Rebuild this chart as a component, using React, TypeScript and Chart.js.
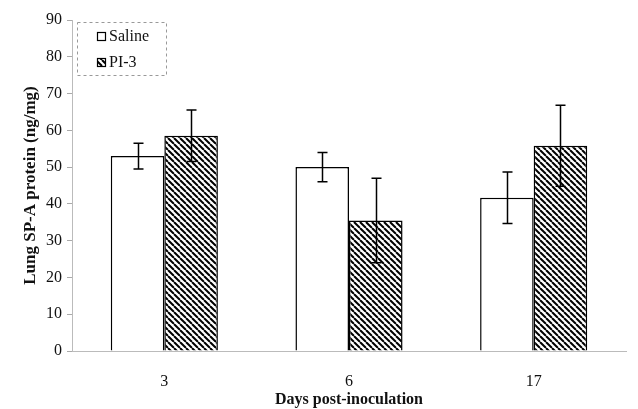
import React, { useEffect, useRef } from "react";
import { Chart, registerables } from "chart.js";
Chart.register(...registerables);

const categories = ["3", "6", "17"];
const salineValues = [53, 50, 41.7];
const salineErrors = [3.5, 4, 7];
const pi3Values = [58.5, 35.5, 55.8];
const pi3Errors = [7, 11.5, 11];
const yTicks = [0, 10, 20, 30, 40, 50, 60, 70, 80, 90];

const FONT = '"Liberation Serif", "DejaVu Serif", serif';

function makeHatch(): CanvasPattern | string {
  const c = document.createElement("canvas");
  c.width = 6;
  c.height = 6;
  const ctx = c.getContext("2d")!;
  ctx.fillStyle = "#fff";
  ctx.fillRect(0, 0, 6, 6);
  ctx.strokeStyle = "#000";
  ctx.lineWidth = 2;
  for (const x of [-6, 0, 6]) {
    ctx.beginPath();
    ctx.moveTo(x, 0);
    ctx.lineTo(x + 6, 6);
    ctx.stroke();
  }
  return ctx.createPattern(c, "repeat") || "#888";
}

const errorBarPlugin = {
  id: "errorBars",
  afterDatasetsDraw(chart: any) {
    const ctx = chart.ctx;
    const y = chart.scales.y;
    ctx.save();
    ctx.strokeStyle = "#000";
    ctx.lineWidth = 1.5;
    chart.data.datasets.forEach((ds: any, di: number) => {
      const meta = chart.getDatasetMeta(di);
      const errs = ds.errors as number[];
      meta.data.forEach((bar: any, i: number) => {
        const v = ds.data[i];
        const top = y.getPixelForValue(v + errs[i]);
        const bot = y.getPixelForValue(v - errs[i]);
        const x = Math.round(bar.x) + 0.5;
        ctx.beginPath();
        ctx.moveTo(x, top);
        ctx.lineTo(x, bot);
        ctx.moveTo(x - 5, top);
        ctx.lineTo(x + 5, top);
        ctx.moveTo(x - 5, bot);
        ctx.lineTo(x + 5, bot);
        ctx.stroke();
      });
    });
    ctx.restore();
  },
};

const legendPlugin = {
  id: "boxLegend",
  afterDraw(chart: any) {
    const ctx = chart.ctx;
    const a = chart.chartArea;
    const x0 = a.left + 5;
    const y0 = a.top + 2;
    const w = 89;
    const h = 53;
    ctx.save();
    ctx.strokeStyle = "#999";
    ctx.lineWidth = 1;
    ctx.setLineDash([3, 3]);
    ctx.strokeRect(x0 + 0.5, y0 + 0.5, w, h);
    ctx.setLineDash([]);
    const items = chart.data.datasets;
    items.forEach((ds: any, i: number) => {
      const cy = y0 + 14 + i * 26;
      const sx = x0 + 20;
      ctx.fillStyle = ds.backgroundColor;
      ctx.fillRect(sx, cy - 4, 9, 9);
      ctx.strokeStyle = "#000";
      ctx.lineWidth = 1.2;
      ctx.strokeRect(sx + 0.5, cy - 3.5, 8, 8);
      ctx.fillStyle = "#111";
      ctx.font = `16px ${FONT}`;
      ctx.textBaseline = "middle";
      ctx.textAlign = "left";
      ctx.fillText(ds.label, sx + 12, cy + 1);
    });
    ctx.restore();
  },
};

export default function App() {
  const ref = useRef<HTMLCanvasElement>(null);
  useEffect(() => {
    document.body.style.margin = "0";
    const hatch = makeHatch();
    const chart = new Chart(ref.current!, {
      type: "bar",
      data: {
        labels: categories,
        datasets: [
          {
            label: "Saline",
            data: salineValues,
            errors: salineErrors,
            backgroundColor: "#fff",
            borderColor: "#000",
            borderWidth: 1.5,
          } as any,
          {
            label: "PI-3",
            data: pi3Values,
            errors: pi3Errors,
            backgroundColor: hatch,
            borderColor: "#000",
            borderWidth: 1.5,
          } as any,
        ],
      },
      options: {
        animation: false,
        responsive: false,
        maintainAspectRatio: false,
        datasets: { bar: { categoryPercentage: 0.58, barPercentage: 1 } },
        layout: { padding: { left: 0, right: 12, top: 20, bottom: 0 } },
        plugins: { legend: { display: false }, tooltip: { enabled: false } },
        scales: {
          x: {
            grid: { display: false, drawTicks: false },
            border: { color: "#bbb", dash: [2, 3], width: 1 },
            ticks: { color: "#111", padding: 21, font: { family: FONT, size: 16 } },
            title: {
              display: true,
              text: "Days post-inoculation",
              color: "#111",
              font: { family: FONT, size: 16, weight: "bold" },
              padding: { top: 0, bottom: 0 },
            },
            afterFit(scale: any) {
              scale.height = 58;
            },
          },
          y: {
            min: 0,
            max: 90,
            afterBuildTicks(scale: any) {
              scale.ticks = yTicks.map((v) => ({ value: v }));
            },
            grid: { drawOnChartArea: false, drawTicks: true, tickLength: 5, color: "#aaa" },
            border: { color: "#bbb", dash: [2, 2], width: 1 },
            ticks: { color: "#111", padding: 5, font: { family: FONT, size: 16 } },
            title: {
              display: true,
              text: "Lung SP-A protein (ng/mg)",
              color: "#111",
              font: { family: FONT, size: 17, weight: "bold" },
              padding: { top: 20, bottom: 0 },
            },
            afterFit(scale: any) {
              scale.width = 72;
            },
          },
        },
      },
      plugins: [errorBarPlugin, legendPlugin],
    });
    return () => chart.destroy();
  }, []);
  return (
    <div style={{ width: 638, height: 409 }}>
      <canvas ref={ref} width={638} height={409} style={{ display: "block" }} />
    </div>
  );
}
